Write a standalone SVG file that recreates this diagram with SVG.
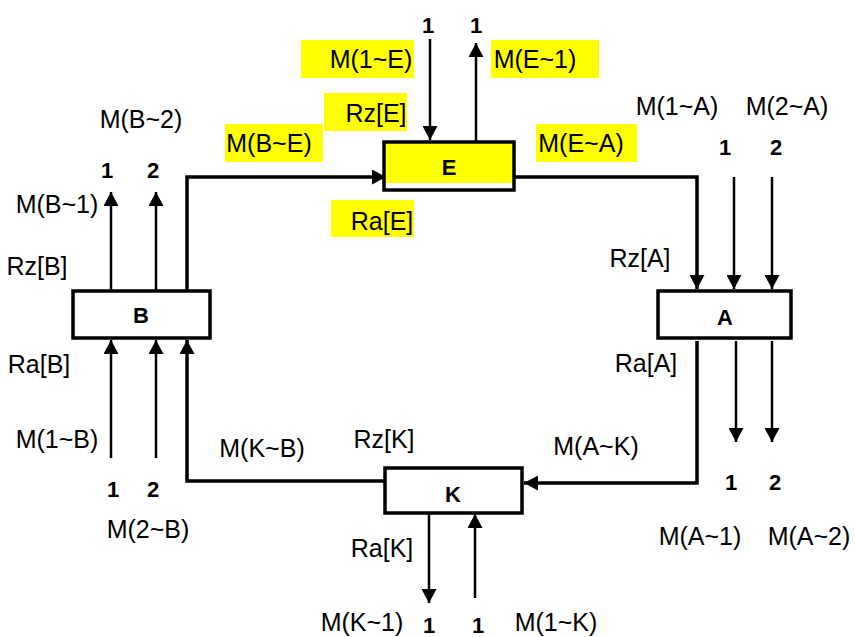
<svg xmlns="http://www.w3.org/2000/svg" width="855" height="637" viewBox="0 0 855 637">
<style>
.lbl{font-family:"Liberation Sans",Arial,sans-serif;font-size:25px;fill:#000;text-anchor:middle}
.num{font-family:"Liberation Sans",Arial,sans-serif;font-size:22px;font-weight:bold;fill:#000;text-anchor:middle}
.node{fill:#fff;stroke:#000;stroke-width:3.5}
.hl{fill:#ffff00}
.thick{fill:none;stroke:#000;stroke-width:3.5;marker-end:url(#ah)}
.thin{fill:none;stroke:#000;stroke-width:2.5;marker-end:url(#ah)}
</style>
<defs>
<marker id="ah" markerUnits="userSpaceOnUse" markerWidth="15" markerHeight="15" refX="14" refY="7.5" orient="auto">
<path d="M0,0 L14,7.5 L0,15 z" fill="#000"/>
</marker>
</defs>
<rect width="855" height="637" fill="#fff"/>

<g id="highlights">
<rect class="hl" x="301" y="40" width="113" height="38"/>
<rect class="hl" x="491" y="40" width="108" height="38"/>
<rect class="hl" x="324" y="93" width="83" height="38"/>
<rect class="hl" x="225" y="124" width="98" height="38"/>
<rect class="hl" x="536" y="124" width="101" height="38"/>
<rect class="hl" x="331" y="200" width="83" height="37"/>
</g>

<g id="connectors">
<path class="thick" d="M187,290 V177 H386"/>
<path class="thick" d="M515,177 H697 V289"/>
<path class="thick" d="M697,341 V483 H524"/>
<path class="thick" d="M384,481 H187 V340"/>
<path class="thin" d="M430,39 V140"/>
<path class="thin" d="M476,145 V43"/>
<path class="thin" d="M111,290 V192"/>
<path class="thin" d="M156,290 V192"/>
<path class="thin" d="M111,458 V340"/>
<path class="thin" d="M156,458 V340"/>
<path class="thin" d="M734,177 V289"/>
<path class="thin" d="M772,177 V289"/>
<path class="thin" d="M736,341 V442"/>
<path class="thin" d="M772,341 V442"/>
<path class="thin" d="M429,514 V603"/>
<path class="thin" d="M475,598 V514"/>
</g>

<g id="node-E">
<rect class="node" x="384" y="142" width="130" height="48"/>
<rect class="hl" x="386" y="144" width="126" height="39"/>
<text class="num" x="449" y="175">E</text>
</g>
<g id="node-B">
<rect class="node" x="73" y="291" width="137" height="47"/>
<text class="num" x="141" y="323">B</text>
</g>
<g id="node-A">
<rect class="node" x="658" y="291" width="133" height="47"/>
<text class="num" x="725" y="325">A</text>
</g>
<g id="node-K">
<rect class="node" x="385" y="468" width="137" height="45"/>
<text class="num" x="453" y="502">K</text>
</g>

<g id="labels">
<text class="lbl" x="371" y="68">M(1~E)</text>
<text class="lbl" x="535" y="68">M(E~1)</text>
<text class="lbl" x="376" y="122">Rz[E]</text>
<text class="lbl" x="269" y="152">M(B~E)</text>
<text class="lbl" x="581" y="152">M(E~A)</text>
<text class="lbl" x="382" y="230">Ra[E]</text>
<text class="lbl" x="141" y="128">M(B~2)</text>
<text class="lbl" x="57" y="213">M(B~1)</text>
<text class="lbl" x="37" y="275">Rz[B]</text>
<text class="lbl" x="39" y="373">Ra[B]</text>
<text class="lbl" x="57" y="448">M(1~B)</text>
<text class="lbl" x="262" y="457">M(K~B)</text>
<text class="lbl" x="148" y="538">M(2~B)</text>
<text class="lbl" x="677" y="115">M(1~A)</text>
<text class="lbl" x="787" y="115">M(2~A)</text>
<text class="lbl" x="640" y="267">Rz[A]</text>
<text class="lbl" x="646" y="372">Ra[A]</text>
<text class="lbl" x="700" y="545">M(A~1)</text>
<text class="lbl" x="809" y="545">M(A~2)</text>
<text class="lbl" x="596" y="455">M(A~K)</text>
<text class="lbl" x="384" y="448">Rz[K]</text>
<text class="lbl" x="382" y="557">Ra[K]</text>
<text class="lbl" x="362" y="631">M(K~1)</text>
<text class="lbl" x="556" y="631">M(1~K)</text>
<text class="num" x="428" y="33">1</text>
<text class="num" x="476" y="33">1</text>
<text class="num" x="107" y="178">1</text>
<text class="num" x="153" y="178">2</text>
<text class="num" x="725" y="155">1</text>
<text class="num" x="776" y="155">2</text>
<text class="num" x="731" y="490">1</text>
<text class="num" x="775" y="490">2</text>
<text class="num" x="113" y="497">1</text>
<text class="num" x="153" y="497">2</text>
<text class="num" x="429" y="633">1</text>
<text class="num" x="478" y="633">1</text>
</g>
</svg>
